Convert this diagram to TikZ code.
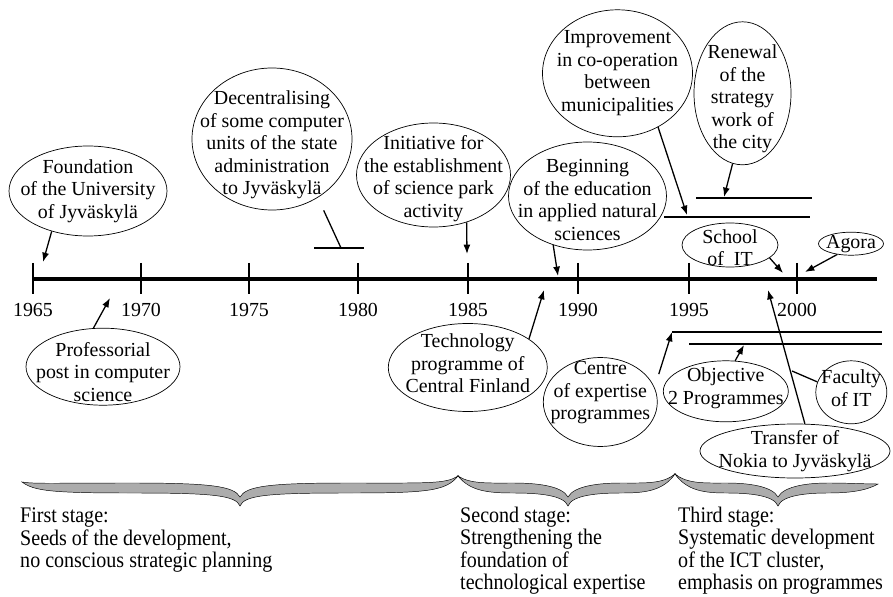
\documentclass[tikz,border=0pt]{standalone}
\usepackage{fontspec}
\setmainfont{Liberation Serif}
\usepackage{graphicx}
\usetikzlibrary{arrows.meta, shapes.geometric}

\tikzset{
  ev/.style n args={2}{draw, ellipse, line width=0.6pt, inner sep=0pt,
    minimum width=#1*0.03cm, minimum height=#2*0.03cm}
}

\newcommand{\stagetext}[1]{\scalebox{0.9}[1]{\begin{tabular}{@{}l@{}}#1\end{tabular}}}
% left x, left tip y, cusp x, right x, right tip y
\newcommand{\stagebrace}[5]{%
  \filldraw[bracefill] (#1,#2)
    .. controls (#1+12,484) and (#1+30,483) .. ({(#1+#3)/2},483)
    .. controls (#3-30,483) and (#3-6,486) .. (#3,497)
    .. controls (#3+6,486) and (#3+30,483) .. ({(#3+#4)/2},483)
    .. controls (#4-30,483) and (#4-12,484) .. (#4,#5)
    .. controls (#4-12,491) and (#4-30,493) .. ({(#3+#4)/2},493)
    .. controls (#3+30,493) and (#3+4,495) .. (#3,506)
    .. controls (#3-4,495) and (#3-30,493) .. ({(#1+#3)/2},493)
    .. controls (#1+30,493) and (#1+12,491) .. cycle;}

\begin{document}
\begin{tikzpicture}[x=0.03cm, y=-0.03cm,
  txt/.style={align=center, inner sep=0pt},
  arr/.style={-{Latex[length=8pt,width=6pt]}, line width=1.1pt},
  bar/.style={line width=1.4pt},
  tick/.style={line width=1.4pt},
  stage/.style={anchor=north west, inner sep=0pt, font=\fontsize{19}{18.9}\selectfont},
  bracefill/.style={fill=gray!65, draw=black, line width=0.4pt}]
  \tikzstyle{every node}=[font=\fontsize{17}{19.2}\selectfont]

  \useasboundingbox (0,0) rectangle (893,597);

  % time axis
  \draw[line width=2.8pt] (33,279) coordinate (tl0) -- (877,279) coordinate (tl1);
  \foreach \xx/\yr in {33/1965,141/1970,249/1975,358/1980,468/1985,578/1990,689/1995,797/2000}{
    \draw[tick] (\xx,263) -- (\xx,294);
    \node (y\yr) at (\xx,310) {\yr};
  }

  % events above the axis
  \node[ev={158}{90}, label={[txt]center:Foundation\\of the University\\of Jyväskylä}] (found) at (88,191) {};
  \node[ev={160}{142}, label={[txt, yshift=-0.18cm]center:Decentralising\\of some computer\\units of the state\\administration\\to Jyväskylä}] (decent) at (272,139) {};
  \node[ev={154}{104}, label={[txt, yshift=-0.11cm]center:Initiative for\\the establishment\\of science park\\activity}] (init) at (433.5,175) {};
  \node[ev={158}{108}, label={[txt, yshift=-0.12cm]center:Beginning\\of the education\\in applied natural\\sciences}] (begin) at (587.5,196) {};
  \node[ev={150}{127}, label={[txt]center:Improvement\\in co-operation\\between\\municipalities}] (improve) at (617.5,73.3) {};
  \node[ev={97}{143}, label={[txt, yshift=-0.17cm]center:Renewal\\of the\\strategy\\work of\\the city}] (renew) at (742.5,93.3) {};
  \node[ev={96}{44}, label={[txt, yshift=-0.08cm]center:School\\of~ IT}] (school) at (730,245) {};
  \node[ev={65}{23}, label={[txt]center:Agora}] (agora) at (851,243.7) {};

  % events below the axis
  \node[ev={154}{77}, label={[txt, yshift=-0.15cm]center:Professorial\\post in computer\\science}] (prof) at (103,366.7) {};
  \node[ev={159}{88}, label={[txt, yshift=0.12cm]center:Technology\\programme of\\Central Finland}] (techn) at (467.8,367.5) {};
  \node[ev={114}{89}, label={[txt, yshift=0.27cm]center:Centre\\of expertise\\programmes}] (centre) at (600.3,402) {};
  \node[ev={125}{61}, label={[txt, yshift=0.09cm]center:Objective\\2 Programmes}] (obj) at (725.8,391.3) {};
  \node[ev={71}{63}, label={[txt, yshift=0.12cm]center:Faculty\\of IT}] (fac) at (851.3,392.3) {};
  \node[ev={190}{54}, label={[txt]center:Transfer of\\Nokia to Jyväskylä}] (nokia) at (795,451) {};

  % connector ends
  \coordinate (t-found) at (43,262);
  \coordinate (t-prof) at (110,298);
  \coordinate (dec-l) at (314,248);
  \coordinate (dec-r) at (364,248);
  \coordinate (dec-m) at (341,248);
  \coordinate (t-init) at (467,254);
  \coordinate (t-begin) at (558,276);
  \coordinate (t-techn) at (544,290);
  \coordinate (imp-l) at (664,217);
  \coordinate (imp-r) at (810,217);
  \coordinate (t-improve) at (687,215);
  \coordinate (ren-l) at (696,198);
  \coordinate (ren-r) at (812,198);
  \coordinate (t-renew) at (724,197);
  \coordinate (t-school) at (783,273);
  \coordinate (t-agora) at (805,272);
  \coordinate (t-nokia) at (768,290);
  \coordinate (fac-join) at (792,371);
  \coordinate (cen-l) at (672,332);
  \coordinate (cen-r) at (882,332);
  \coordinate (obj-l) at (689,344);
  \coordinate (obj-r) at (882,344);
  \coordinate (t-obj) at (744,345);

  % periods
  \draw[bar] (dec-l) -- (dec-r);
  \draw[bar] (imp-l) -- (imp-r);
  \draw[bar] (ren-l) -- (ren-r);
  \draw[bar] (cen-l) -- (cen-r);
  \draw[bar] (obj-l) -- (obj-r);

  \path[arr]
  (found.228)   edge (t-found)
  (prof.104)    edge (t-prof)
  (init.305)    edge (t-init)
  (begin.235)   edge (t-begin)
  (techn.25)    edge (t-techn)
  (improve.307) edge (t-improve)
  (renew.262)   edge (t-renew)
  (school.342)  edge (t-school)
  (agora.218)   edge (t-agora)
  (centre.15)   edge [shorten <=0.42cm] (cen-l)
  (obj.73)      edge (t-obj)
  (nokia.70)    edge (t-nokia);
  \path[line width=1.1pt]
  (decent.308)  edge [shorten <=0.42cm] (dec-m)
  (fac.163)     edge (fac-join);

  % stages
  \stagebrace{22}{482}{240}{458}{476}
  \stagebrace{458}{476}{568}{675}{474}
  \stagebrace{675}{474}{778}{878}{484}

  \node[stage] (first) at (20,507) {\stagetext{First stage:\\Seeds of the development,\\no conscious strategic planning}};
  \node[stage] (second) at (460,507) {\stagetext{Second stage:\\Strengthening the\\foundation of\\technological expertise}};
  \node[stage] (third) at (678,507) {\stagetext{Third stage:\\Systematic development\\of the ICT cluster,\\emphasis on programmes}};
\end{tikzpicture}
\end{document}
